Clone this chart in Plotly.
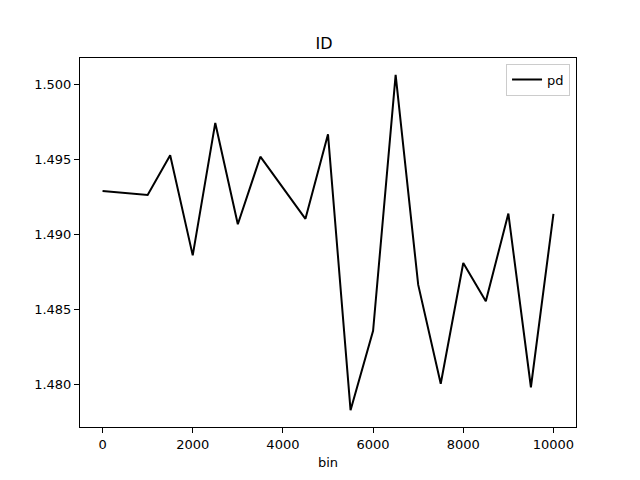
import plotly.graph_objects as go

# values
bins = [0, 1000, 1500, 2000, 2500, 3000, 3500, 4500, 5000, 5500,
        6000, 6500, 7000, 7500, 8000, 8500, 9000, 9500, 10000]
pd_vals = [1.4929, 1.49263, 1.49528, 1.48860, 1.49743, 1.49068, 1.49518,
           1.49104, 1.49667, 1.47828, 1.48357, 1.50064, 1.48665, 1.48004,
           1.48809, 1.48554, 1.49139, 1.47981, 1.49137]

x_ticks = [0, 2000, 4000, 6000, 8000, 10000]
y_ticks = [1.480, 1.485, 1.490, 1.495, 1.500]

FONT = "DejaVu Sans, sans-serif"

fig = go.Figure()
fig.add_trace(go.Scatter(
    x=bins,
    y=pd_vals,
    mode='lines',
    line=dict(color='black', width=2),
    name='pd'
))

axis_style = dict(
    showgrid=False, zeroline=False,
    showline=True, linecolor='black', linewidth=1, mirror=True,
    ticks='outside', ticklen=5, tickcolor='black', tickwidth=1,
    tickfont=dict(size=13, color='black', family=FONT),
)

# the page puts an 8px body margin around the plot, so size for that
fig.update_layout(
    width=632, height=472,
    paper_bgcolor='white', plot_bgcolor='white',
    font=dict(family=FONT, color='black'),
    margin=dict(l=72, r=64, t=50, b=53),
    title=dict(text="ID", x=0.5, xanchor='center', y=0.926, yanchor='middle',
               font=dict(size=16, family=FONT, color='black')),
    showlegend=True,
    legend=dict(x=0.988, y=0.985, xanchor='right', yanchor='top',
                bgcolor='white', bordercolor='#cccccc', borderwidth=1,
                tracegroupgap=0, itemwidth=30,
                font=dict(size=13, family=FONT, color='black')),
    xaxis=dict(axis_style, range=[-500, 10500], tickvals=x_ticks,
               ticktext=[str(v) for v in x_ticks],
               title=dict(text="bin", standoff=7,
                          font=dict(size=13, family=FONT, color='black'))),
    yaxis=dict(axis_style, range=[1.47716, 1.50176], tickvals=y_ticks,
               ticktext=[f"{v:.3f}" for v in y_ticks]),
)

fig.write_html("out.html")
